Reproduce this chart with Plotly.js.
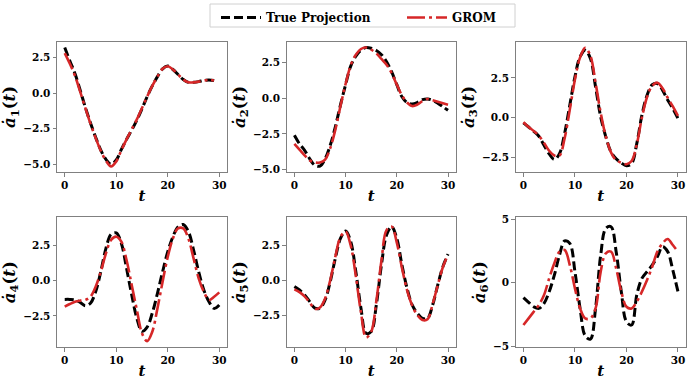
<!DOCTYPE html>
<html>
<head>
<meta charset="utf-8">
<script src="https://cdn.plot.ly/plotly-3.0.1.min.js"></script>
<style>
  html, body { margin: 0; padding: 0; background: #fff; }
  #chart { width: 689px; height: 384px; }
</style>
</head>
<body>
<div id="chart"></div>
<script>
/* a_dot modes: true projection vs GROM */
const t = [0, 1, 2, 3, 4, 5, 6, 7, 8, 9, 10, 11, 12, 13, 14, 15, 16, 17, 18, 19, 20,
  21, 22, 23, 24, 25, 26, 27, 28, 29, 30];

const true1 = [3.2, 2.25, 1.35, 0.2, -1.0, -2.1, -3.1, -4.0, -4.65, -5.0, -4.7, -3.95, -3.25, -2.6, -1.9,
  -1.1, -0.25, 0.5, 1.15, 1.7, 1.9, 1.65, 1.3, 0.95, 0.75, 0.75, 0.8, 0.88, 0.92, 0.88];
const grom1 = [2.8, 2.05, 1.2, 0.1, -1.05, -2.15, -3.15, -4.05, -4.75, -5.15, -4.8, -4.0, -3.25, -2.55, -1.85,
  -1.05, -0.25, 0.5, 1.15, 1.7, 1.88, 1.65, 1.3, 0.95, 0.75, 0.75, 0.8, 0.88, 0.92, 0.88];

const true2 = [-2.6, -3.2, -3.65, -4.25, -4.7, -4.75, -4.25, -3.3, -2.0, -0.47, 0.95, 2.25, 2.95, 3.37, 3.55,
  3.5, 3.35, 3.05, 2.55, 1.85, 0.95, 0.1, -0.3, -0.4, -0.3, -0.1, -0.05, -0.15, -0.35, -0.6, -0.85];
const grom2 = [-3.2, -3.6, -4.0, -4.35, -4.5, -4.5, -4.3, -3.5, -2.2, -0.55, 1.0, 2.3, 3.05, 3.45, 3.55,
  3.4, 3.15, 2.75, 2.35, 1.75, 0.95, 0.2, -0.3, -0.55, -0.45, -0.2, -0.05, -0.15, -0.25, -0.35, -0.45];

const true3 = [-0.34, -0.6, -0.87, -1.18, -1.75, -2.3, -2.65, -2.28, -1.0, 0.78, 2.57, 3.84, 4.25, 3.73, 1.94,
  0.04, -1.22, -2.17, -2.6, -2.87, -3.04, -2.9, -1.65, 0.15, 1.4, 2.07, 2.15, 1.73, 1.1, 0.57, -0.06];
const grom3 = [-0.3, -0.6, -0.85, -1.15, -1.6, -2.1, -2.4, -2.4, -1.3, 0.5, 2.4, 3.8, 4.4, 3.9, 2.2,
  0.3, -1.2, -2.2, -2.7, -2.85, -2.95, -2.75, -1.7, 0.0, 1.3, 2.0, 2.2, 1.85, 1.25, 0.7, 0.1];

const true4 = [-1.33, -1.33, -1.37, -1.54, -1.78, -1.6, -0.78, 0.64, 2.3, 3.3, 3.4, 2.65, 0.88, -1.0, -2.67,
  -3.6, -3.3, -2.3, -0.9, 0.64, 2.06, 3.13, 3.84, 4.0, 3.5, 2.2, 0.64, -0.66, -1.5, -1.97, -1.73];
const grom4 = [-1.85, -1.66, -1.5, -1.42, -1.37, -1.14, -0.43, 0.64, 1.94, 2.9, 3.13, 2.77, 1.47, -0.3, -2.08,
  -3.74, -4.3, -3.63, -1.97, -0.07, 1.7, 3.0, 3.72, 3.72, 3.0, 1.6, 0.17, -0.78, -1.37, -1.14, -0.83];

const true5 = [-0.45, -0.7, -1.05, -1.53, -2.0, -2.0, -1.41, -0.1, 1.58, 3.0, 3.54, 2.78, 0.62, -2.0, -3.8,
  -3.68, -1.77, 1.1, 3.25, 3.85, 3.0, 1.1, -0.57, -1.77, -2.37, -2.73, -2.73, -1.77, -0.33, 0.98, 1.87];
const grom5 = [-0.65, -0.85, -1.15, -1.6, -2.05, -1.95, -1.3, 0.0, 1.7, 3.1, 3.5, 2.5, 0.3, -2.3, -4.1,
  -3.7, -1.5, 1.4, 3.6, 3.85, 2.7, 0.9, -0.7, -1.8, -2.5, -2.85, -2.8, -1.7, -0.35, 0.95, 1.85];

const true6 = [-1.18, -1.55, -1.9, -2.03, -1.63, -0.71, 0.6, 2.18, 3.29, 3.1, 0.87, -2.03, -4.2, -4.45, -2.03,
  2.18, 4.29, 4.42, 2.45, -0.71, -3.08, -3.34, -0.97, 0.34, 0.87, 1.39, 2.05, 2.84, 2.45, 1.0, -0.71];
const grom6 = [-3.34, -2.82, -2.29, -1.76, -0.97, 0.34, 1.53, 2.45, 2.58, 1.39, -0.45, -2.03, -2.82, -2.82, -2.03,
  0.87, 2.32, 2.45, 1.13, -0.71, -1.9, -2.03, -1.5, -0.71, 0.21, 1.26, 2.45, 3.1, 3.45, 2.97, 2.45];

const xTicks = [0, 10, 20, 30];
const yTicksA = [-5, -2.5, 0, 2.5];
const yTextA = ["\u22125.0", "\u22122.5", "0.0", "2.5"];
const yTicksB = [-2.5, 0, 2.5];
const yTextB = ["\u22122.5", "0.0", "2.5"];
const yTicksC = [-5, 0, 5];
const yTextC = ["\u22125", "0", "5"];

const trueSeries = [true1, true2, true3, true4, true5, true6];
const gromSeries = [grom1, grom2, grom3, grom4, grom5, grom6];

const SERIF = "DejaVu Serif, serif";
const GRAY = "#808080";
const RED = "#d62728";

// panel geometry, in pixels of the 689x384 picture
const W = 689, H = 384;
const colPx = [[57, 227], [286.7, 455.7], [515.7, 685.7]];
const rowPx = [[42, 172], [217.3, 347.3]];
const yRanges = [[-5.54, 3.58], [-5.17, 3.94], [-3.44, 4.77], [-4.74, 4.51], [-4.81, 4.52], [-5.1, 5.16]];
const yTickSets = [[yTicksA, yTextA], [yTicksA, yTextA], [yTicksB, yTextB],
  [yTicksB, yTextB], [yTicksB, yTextB], [yTicksC, yTextC]];

// legend: two one-entry legends inside a single frame, like the reference
const legBase = {
  orientation: "h",
  xanchor: "left",
  y: 1 - 3 / H,
  yanchor: "top",
  borderwidth: 0,
  bgcolor: "rgba(0,0,0,0)",
  font: { family: SERIF, size: 12, weight: "bold" },
  itemwidth: 40,
};

const traces = [];
const layout = {
  width: W,
  height: H,
  margin: { l: 0, r: 0, t: 0, b: 0 },
  paper_bgcolor: "#fff",
  plot_bgcolor: "#fff",
  font: { family: SERIF, color: "#000" },
  showlegend: true,
  legend: Object.assign({}, legBase, { x: 216 / W }),
  legend2: Object.assign({}, legBase, { x: 402 / W }),
  shapes: [{
    type: "rect", xref: "paper", yref: "paper",
    x0: 210 / W, x1: 515 / W, y0: 1 - 27 / H, y1: 1 - 4 / H,
    line: { color: "#d0d0d0", width: 1 },
  }],
};

for (let i = 0; i < 6; i++) {
  const n = i + 1;
  const xa = n === 1 ? "x" : "x" + n;
  const ya = n === 1 ? "y" : "y" + n;
  const ys = trueSeries[i];
  traces.push({
    x: t.slice(0, ys.length),
    y: ys,
    xaxis: xa,
    yaxis: ya,
    name: "True Projection",
    type: "scatter",
    mode: "lines",
    line: { color: "#000", width: 3, dash: "9px,4px", shape: "spline", smoothing: 1 },
    showlegend: i === 0,
    legend: "legend",
  });
  const gs = gromSeries[i];
  traces.push({
    x: t.slice(0, gs.length),
    y: gs,
    xaxis: xa,
    yaxis: ya,
    name: "GROM",
    type: "scatter",
    mode: "lines",
    line: { color: RED, width: 2.6, dash: "18px,4px,3px,4px", shape: "spline", smoothing: 1 },
    showlegend: i === 0,
    legend: "legend2",
  });

  const c = colPx[i % 3], r = rowPx[Math.floor(i / 3)];
  const axBase = {
    showline: true,
    mirror: true,
    linecolor: GRAY,
    linewidth: 1,
    showgrid: false,
    zeroline: false,
    ticks: "outside",
    ticklen: 3.5,
    tickwidth: 1,
    tickcolor: GRAY,
    tickfont: { family: SERIF, size: 10.5, weight: "bold" },
  };
  layout["xaxis" + (n === 1 ? "" : n)] = Object.assign({}, axBase, {
    domain: [c[0] / W, c[1] / W],
    anchor: ya,
    range: [-1.5, 31.5],
    tickvals: xTicks,
    title: {
      text: "<i>t</i>",
      font: { family: SERIF, size: 15, weight: "bold" },
      standoff: 0,
    },
  });
  layout["yaxis" + (n === 1 ? "" : n)] = Object.assign({}, axBase, {
    domain: [1 - r[1] / H, 1 - r[0] / H],
    anchor: xa,
    range: yRanges[i],
    tickvals: yTickSets[i][0],
    ticktext: yTickSets[i][1],
    title: {
      text: "<i>\u0227</i><sub>" + n + "</sub>(<i>t</i>)",
      font: { family: SERIF, size: 16.5, weight: "bold" },
      standoff: 3,
    },
  });
}

Plotly.newPlot("chart", traces, layout, { staticPlot: true, displayModeBar: false });
</script>
</body>
</html>
